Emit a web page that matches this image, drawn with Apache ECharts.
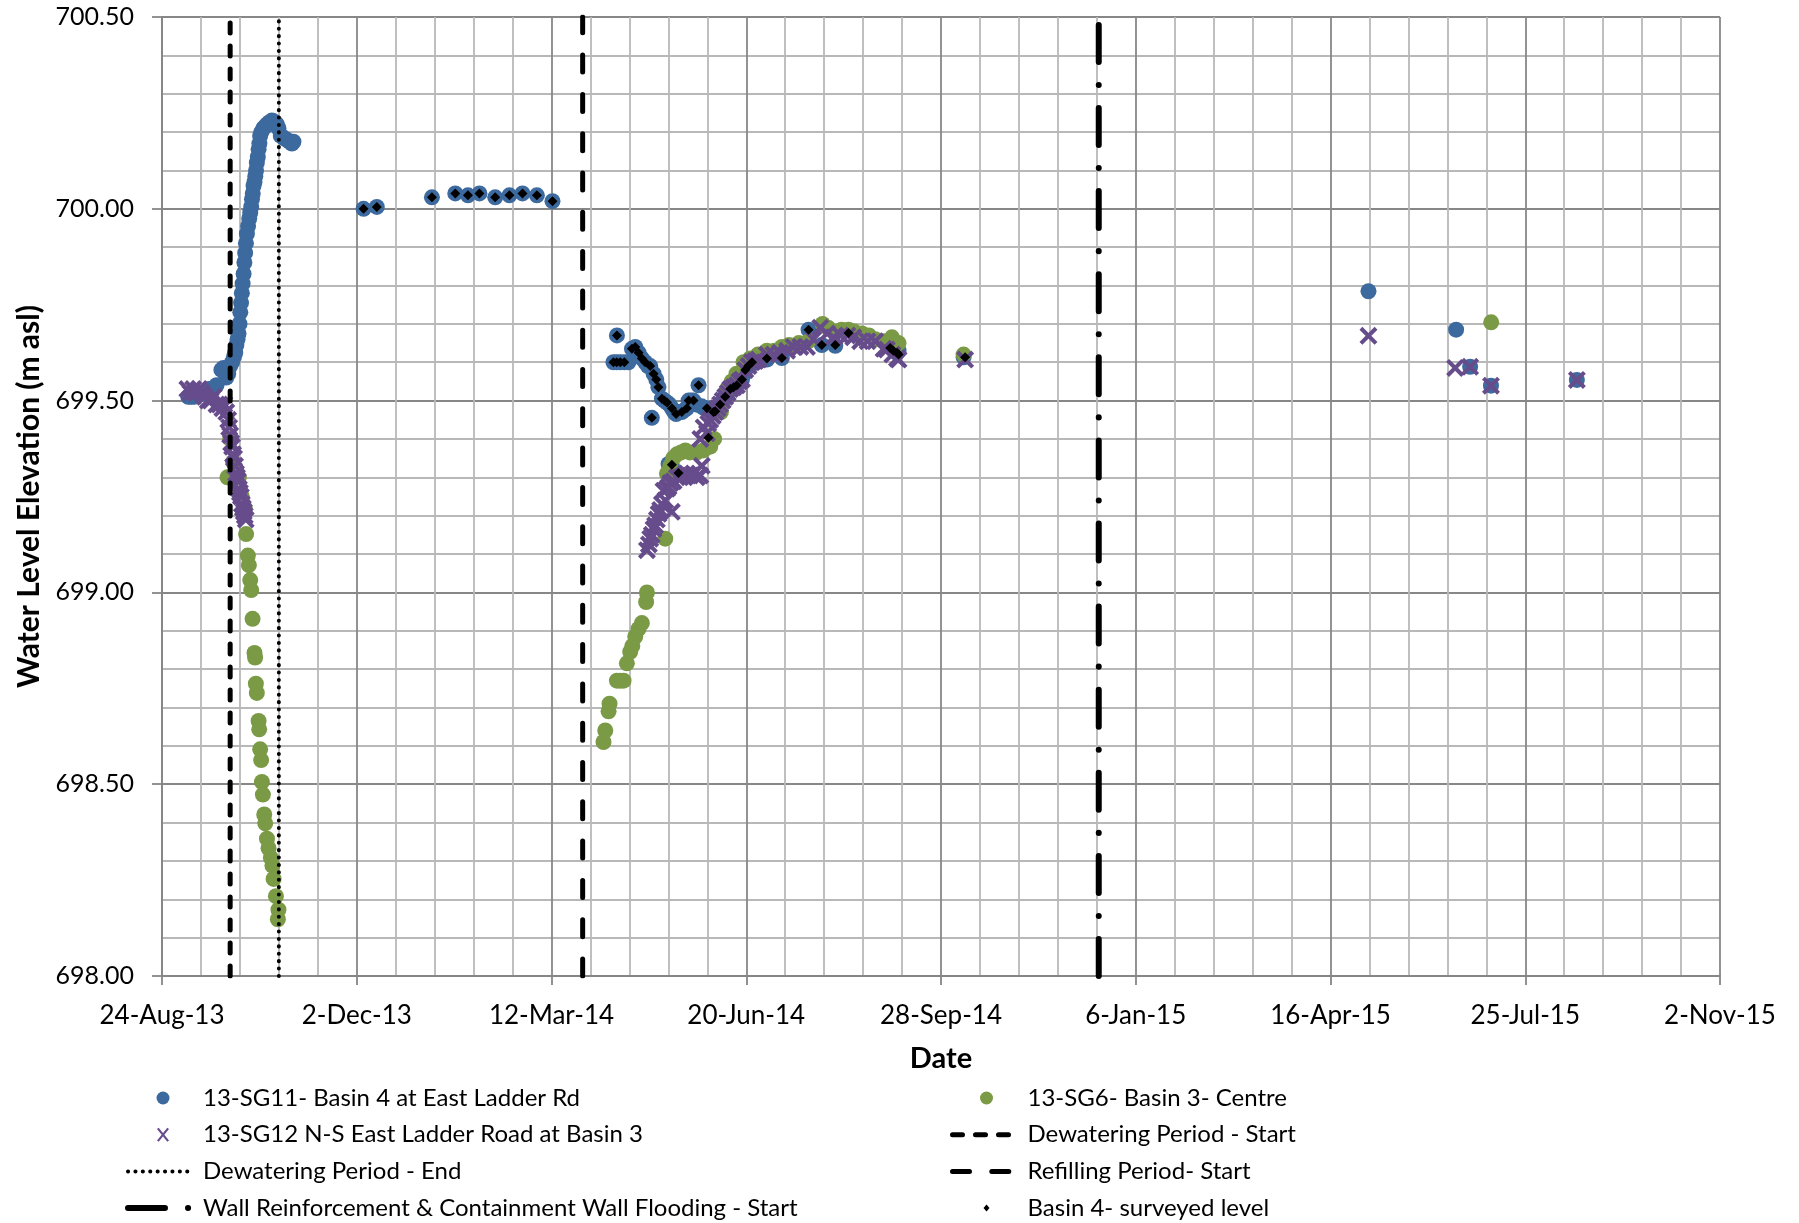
<!DOCTYPE html>
<html><head><meta charset="utf-8">
<script src="https://cdn.jsdelivr.net/npm/echarts@6/dist/echarts.min.js"></script>
<style>html,body{margin:0;padding:0;background:#fff}#chart{width:1799px;height:1223px}</style>
</head><body><div id="chart"></div>
<script>
// x values are days since 24-Aug-2013; y values are water level (m asl)
const ORIGIN = Date.UTC(2013, 7, 24);
const MONTHS = ['Jan','Feb','Mar','Apr','May','Jun','Jul','Aug','Sep','Oct','Nov','Dec'];
const xTicks = [0, 100, 200, 300, 400, 500, 600, 700, 800];
const yTicks = [698.0, 698.5, 699.0, 699.5, 700.0, 700.5];

const sg11Points = [
  [13.5,699.51],[15,699.51],[16.5,699.51],[18,699.52],[20,699.52],[22,699.52],[24,699.53],[26,699.53],[28,699.54],
  [30.5,699.58],[31.5,699.585],[33,699.56],[34,699.57],[35,699.59],[36,699.60],[37,699.615],[37.6,699.625],
  [38.2,699.645],[38.8,699.66],[39.3,699.675],[39.8,699.70],[40.2,699.73],[40.6,699.755],[41,699.78],[41.4,699.805],
  [41.9,699.83],[42.3,699.86],[42.7,699.885],[43.1,699.91],[43.6,699.935],[44.2,699.955],[44.8,699.975],[45.3,699.99],
  [45.8,700.005],[46.2,700.025],[46.6,700.04],[47,700.06],[47.5,700.07],[47.9,700.085],[48.3,700.10],[48.7,700.12],
  [49.2,700.135],[49.6,700.155],[50,700.17],[50.4,700.19],[51,700.20],[52.1,700.21],[53,700.215],[53.9,700.22],
  [55,700.225],[56.4,700.23],[57.3,700.228],[58.1,700.225],[59,700.22],[59.8,700.21],[61,700.19],[62.5,700.185],
  [64.1,700.18],[65.5,700.175],[66.7,700.17],[67.5,700.175],
  [103.5,700.00],[110.3,700.005],[138.6,700.03],[150.6,700.04],[157.1,700.035],[163,700.04],[171.1,700.03],
  [178.4,700.035],[185.1,700.04],[192.5,700.035],[200.5,700.02],
  [231.8,699.60],[233.5,699.60],[233.6,699.67],[235.3,699.60],[237.4,699.60],[239.5,699.60],[241.3,699.635],
  [243,699.64],[244.7,699.625],[246.4,699.61],[248.1,699.60],[249.5,699.59],[250.7,699.59],[251.5,699.455],
  [252.4,699.57],[253.8,699.555],[254.9,699.535],[256.7,699.505],[258,699.50],[259.3,699.495],[260.5,699.49],
  [261.8,699.48],[263,699.47],[264,699.465],[265.5,699.47],[266.9,699.47],[268.2,699.475],[269.5,699.48],
  [270.4,699.50],[271.7,699.50],[272.9,699.50],[274.2,699.49],[275.5,699.54],[277,699.485],[278.5,699.48],
  [279.8,699.48],[281.5,699.475],[283.2,699.47],[285,699.48],[286.6,699.49],[288,699.50],[289.2,699.51],
  [290.5,699.52],[291.8,699.53],[293.5,699.535],[295.2,699.54],[296.5,699.55],[297.8,699.555],[299,699.57],
  [300,699.585],[301.5,699.59],[303,699.595],[305,699.60],[260.1,699.335],[261.8,699.33],[310.6,699.607],
  [318.3,699.611],[332,699.685],[338.8,699.645],[345.7,699.643],[377.4,699.624],[378.2,699.63],[411.6,699.613],
  [619.5,699.785],[664.5,699.685],[671.7,699.588],[682.4,699.539],[726.5,699.554]
];

const sg6Points = [
  [33.6,699.30],[35,699.40],[36.5,699.34],[38,699.32],[39.5,699.30],[41,699.25],[42.5,699.22],[43.2,699.152],
  [44.1,699.096],[44.6,699.071],[45.3,699.032],[45.8,699.006],[46.5,698.931],[47.5,698.842],[47.8,698.83],
  [48.2,698.762],[48.7,698.738],[49.6,698.665],[49.9,698.643],[50.4,698.591],[50.9,698.563],[51.3,698.506],
  [51.8,698.473],[52.5,698.421],[53,698.398],[53.9,698.358],[54.7,698.333],[55.9,698.308],[56.7,698.288],
  [57.3,698.253],[58.5,698.208],[59.8,698.173],[59.5,698.148],
  [226.7,698.61],[227.6,698.64],[229.3,698.69],[229.8,698.71],[233.6,698.77],[235.3,698.77],[237,698.77],
  [238.7,698.815],[240.4,698.845],[241.5,698.86],[243,698.885],[244.7,698.905],[246.4,698.92],[248.6,698.975],
  [249,699.00],[258.4,699.14],[259.3,699.31],[261,699.33],[262.5,699.35],[264.4,699.36],[266.5,699.365],
  [268.7,699.37],[271,699.365],[274.7,699.365],[278,699.37],[281.5,699.38],[283.5,699.40],[287,699.47],
  [290.1,699.53],[292.5,699.55],[295,699.57],[298.6,699.60],[302,699.61],[306,699.62],[310.6,699.63],
  [314.5,699.63],[318.3,699.64],[322,699.645],[327,699.65],[332,699.655],[339.2,699.70],[342,699.69],
  [345.7,699.68],[349,699.685],[352.5,699.685],[355.5,699.68],[359.4,699.675],[363,699.67],[366.2,699.66],
  [370.5,699.655],[374.8,699.665],[378.2,699.65],[411.6,699.62],
  [682.5,699.704]
];

const sg12Points = [
  [13,699.53],[14.5,699.52],[16,699.53],[17.5,699.52],[19,699.53],[20.5,699.52],[22,699.51],[23.5,699.50],
  [25,699.50],[26.5,699.51],[28,699.49],[29.5,699.49],[31,699.48],[32,699.49],[33,699.47],[34,699.45],
  [34.5,699.43],[35,699.41],[35.5,699.39],[36,699.38],[36.5,699.36],[37,699.35],[37.5,699.33],[38,699.31],
  [38.5,699.30],[39,699.29],[39.5,699.27],[40,699.26],[40.5,699.25],[41,699.23],[41.5,699.22],[42,699.21],
  [42.5,699.20],[43,699.19],
  [249,699.11],[250,699.125],[250.7,699.14],[251.5,699.15],[252.4,699.165],[253.2,699.175],[254.1,699.19],
  [255,699.205],[255.8,699.215],[256.7,699.23],[257.5,699.265],[258.4,699.24],[259.3,699.27],[260.1,699.275],
  [261.8,699.21],[261,699.285],[262.7,699.29],[264.4,699.30],[266.1,699.30],[267.8,699.305],[269.5,699.31],
  [271.2,699.305],[272.9,699.31],[274.6,699.30],[276.4,699.305],[277.2,699.33],[276.4,699.40],[278.1,699.43],
  [279.8,699.415],[280.5,699.44],[281.5,699.45],[282.8,699.46],[284.1,699.47],[285.4,699.48],[286.6,699.49],
  [287.9,699.50],[289.2,699.51],[290.5,699.52],[291.8,699.53],[293.5,699.535],[295.2,699.54],[296.5,699.55],
  [297.8,699.555],[299.5,699.58],[301.2,699.59],[302.9,699.60],[304.6,699.603],[306.3,699.607],[310.6,699.62],
  [314,699.62],[317.4,699.625],[321,699.63],[324.3,699.64],[327.8,699.64],[331.2,699.64],[334.5,699.66],
  [338,699.69],[341.5,699.675],[344.8,699.665],[348.5,699.67],[352,699.67],[355,699.665],[358.5,699.655],
  [362.3,699.655],[366.2,699.655],[370.5,699.635],[372.2,699.633],[375,699.62],[377.4,699.61],[378.2,699.607],
  [412.4,699.607],
  [619.5,699.669],[664,699.585],[671.7,699.588],[682.4,699.539],[726.5,699.554]
];

const surveyedPoints = [
  [103.5,700.00],[110.3,700.005],[138.6,700.03],[150.6,700.04],[157.1,700.035],[163,700.04],[171.1,700.03],
  [178.4,700.035],[185.1,700.04],[192.5,700.035],[200.5,700.02],
  [233.6,699.67],[231.8,699.60],[233.5,699.60],[235.3,699.60],[237.4,699.60],[241.3,699.635],[243,699.64],
  [244.7,699.625],[246.4,699.61],[248.1,699.60],[250.7,699.59],[252.4,699.57],[253.8,699.555],[254.9,699.535],
  [256.7,699.505],[258,699.50],[259.3,699.495],[261.8,699.48],[264,699.465],[266.9,699.47],[269.5,699.48],
  [270.4,699.50],[272.9,699.50],[275.5,699.54],[279.8,699.48],[283.2,699.47],[251.5,699.455],
  [261.8,699.333],[265.2,699.311],[280.6,699.403],[284.1,699.472],[286.6,699.49],[289.2,699.51],[291.8,699.53],
  [293.5,699.535],[295.2,699.54],[297.8,699.555],[299.5,699.58],[301,699.59],[303,699.60],[310.6,699.61],
  [318.3,699.611],[332,699.685],[338.8,699.645],[345.7,699.645],[352.5,699.676],[373.9,699.637],[375.5,699.63],
  [377.4,699.625],[378.2,699.62],[412.4,699.613]
];

// event dates (days since 24-Aug-2013)
const dewateringStartDay = 35;   // 28-Sep-13
const dewateringEndDay = 60;     // 23-Oct-13
const refillingStartDay = 216;   // 28-Mar-14
const wallFloodingStartDay = 481; // 18-Dec-14
const yRange = [698.0, 700.5];

const FONT = 'Lato, "Noto Sans", sans-serif';
const BLUE = '#3D6A9E', GREEN = '#7A9A46', PURPLE = '#674C8C';
const XPATH = 'path://M0,1.6 L1.6,0 L10,8.4 L8.4,10 Z M8.4,0 L10,1.6 L1.6,10 L0,8.4 Z';
// legend icons with an invisible 62x14 frame so the marker sits where the reference draws it
function circleIcon(cx) {
  return 'path://M0,0 M62,14 M' + (cx - 6.5) + ',7 a6.5,6.5 0 1,0 13,0 a6.5,6.5 0 1,0 -13,0 Z';
}
function xIcon(cx) {
  const l = cx - 6, r = cx + 6;
  return 'path://M0,0 M62,14 M' + l + ',1.3 L' + (l + 1.7) + ',0 L' + r + ',12.7 L' + (r - 1.7) + ',14 Z M' +
    (r - 1.7) + ',0 L' + r + ',1.3 L' + (l + 1.7) + ',14 L' + l + ',12.7 Z';
}
function diamondIcon(cx) {
  return 'path://M0,0 M62,14 M' + (cx - 3) + ',7 L' + cx + ',3.5 L' + (cx + 3) + ',7 L' + cx + ',10.5 Z';
}

function dayLabel(v) {
  const d = new Date(ORIGIN + v * 86400000);
  return d.getUTCDate() + '-' + MONTHS[d.getUTCMonth()] + '-' + String(d.getUTCFullYear()).slice(2);
}
function vline(name, day, style) {
  return {
    name, type: 'line', symbol: 'none', clip: true, z: 3,
    data: [[day, yRange[0]], [day, yRange[1]]],
    itemStyle: { color: '#000', opacity: 0 },
    lineStyle: Object.assign({ color: '#000' }, style)
  };
}

const N = {
  sg11: '13-SG11- Basin 4 at East Ladder Rd',
  sg6: '13-SG6- Basin 3- Centre',
  sg12: '13-SG12 N-S East Ladder Road at Basin 3',
  ds: 'Dewatering Period - Start',
  de: 'Dewatering Period - End',
  rf: 'Refilling Period- Start',
  wf: 'Wall Reinforcement & Containment Wall Flooding - Start',
  bs: 'Basin 4- surveyed level'
};

const chart = echarts.init(document.getElementById('chart'), null, { renderer: 'canvas' });
const legendCommon = {
  orient: 'vertical', itemWidth: 62, itemHeight: 14, itemGap: 10.7, padding: 0,
  height: 140,
  lineStyle: { width: 5 },
  textStyle: { fontFamily: FONT, fontSize: 24, color: '#000', lineHeight: 26, padding: [0, 0, 0, 8] },
  inactiveColor: '#ccc', selectedMode: false
};
chart.setOption({
  animation: false,
  backgroundColor: '#fff',
  textStyle: { fontFamily: FONT },
  grid: { left: 162, right: 79, top: 17, bottom: 247, containLabel: false, outerBoundsMode: 'none' },
  legend: [
    Object.assign({ left: 125, top: 1085, data: [
      { name: N.sg11, icon: circleIcon(35) },
      { name: N.sg12, icon: xIcon(35) },
      { name: N.de, lineStyle: { width: 4 } },
      { name: N.wf, lineStyle: { width: 6 } }
    ] }, legendCommon),
    Object.assign({ left: 950, top: 1085, data: [
      { name: N.sg6, icon: circleIcon(34) },
      { name: N.ds },
      { name: N.rf },
      { name: N.bs, icon: diamondIcon(34) }
    ] }, legendCommon)
  ],
  xAxis: {
    type: 'value', min: xTicks[0], max: xTicks[xTicks.length - 1], interval: 100,
    name: 'Date', nameLocation: 'middle', nameGap: 68,
    nameTextStyle: { fontFamily: FONT, fontSize: 29, fontWeight: 'bold', color: '#000' },
    axisLine: { show: true, onZero: false, lineStyle: { color: '#868686', width: 1.8 } },
    axisTick: { show: true, inside: false, length: 9, lineStyle: { color: '#868686', width: 1.8 } },
    axisLabel: { formatter: dayLabel, fontFamily: FONT, fontSize: 26, color: '#000', margin: 27,
      showMinLabel: true, showMaxLabel: true, hideOverlap: false },
    splitLine: { show: true, lineStyle: { color: '#878787', width: 1.8 } },
    minorTick: { show: false, splitNumber: 5 },
    minorSplitLine: { show: true, lineStyle: { color: '#b8b8b8', width: 1.8 } }
  },
  yAxis: {
    type: 'value', min: yTicks[0], max: yTicks[yTicks.length - 1], interval: 0.5,
    name: 'Water Level Elevation (m asl)', nameLocation: 'middle', nameRotate: 90, nameGap: 118,
    nameTextStyle: { fontFamily: FONT, fontSize: 30, fontWeight: 'bold', color: '#000' },
    axisLine: { show: true, onZero: false, lineStyle: { color: '#868686', width: 1.8 } },
    axisTick: { show: true, inside: false, length: 10, lineStyle: { color: '#868686', width: 1.8 } },
    axisLabel: { formatter: v => v.toFixed(2), fontFamily: FONT, fontSize: 25, color: '#000', margin: 28,
      showMinLabel: true, showMaxLabel: true },
    splitLine: { show: true, lineStyle: { color: '#878787', width: 1.8 } },
    minorTick: { show: false, splitNumber: 5 },
    minorSplitLine: { show: true, lineStyle: { color: '#b8b8b8', width: 1.8 } }
  },
  series: [
    { name: N.sg11, type: 'scatter', symbol: 'circle', symbolSize: 16, z: 2,
      itemStyle: { color: BLUE, opacity: 1 }, data: sg11Points },
    { name: N.sg6, type: 'scatter', symbol: 'circle', symbolSize: 16, z: 2,
      itemStyle: { color: GREEN, opacity: 1 }, data: sg6Points },
    { name: N.sg12, type: 'scatter', symbol: XPATH, symbolSize: 18, z: 2,
      itemStyle: { color: PURPLE, opacity: 1 }, data: sg12Points },
    vline(N.ds, dewateringStartDay, { width: 5, type: [10, 13], cap: 'round' }),
    vline(N.de, dewateringEndDay, { width: 4, type: [0.1, 7.3], cap: 'round' }),
    vline(N.rf, refillingStartDay, { width: 5, type: [17, 22.3], cap: 'round' }),
    vline(N.wf, wallFloodingStartDay, { width: 6, type: [37, 23, 0.1, 23], cap: 'round' }),
    { name: N.bs, type: 'scatter', symbol: 'diamond', symbolSize: 10, z: 4,
      itemStyle: { color: '#000', opacity: 1 }, data: surveyedPoints }
  ]
});
</script></body></html>
